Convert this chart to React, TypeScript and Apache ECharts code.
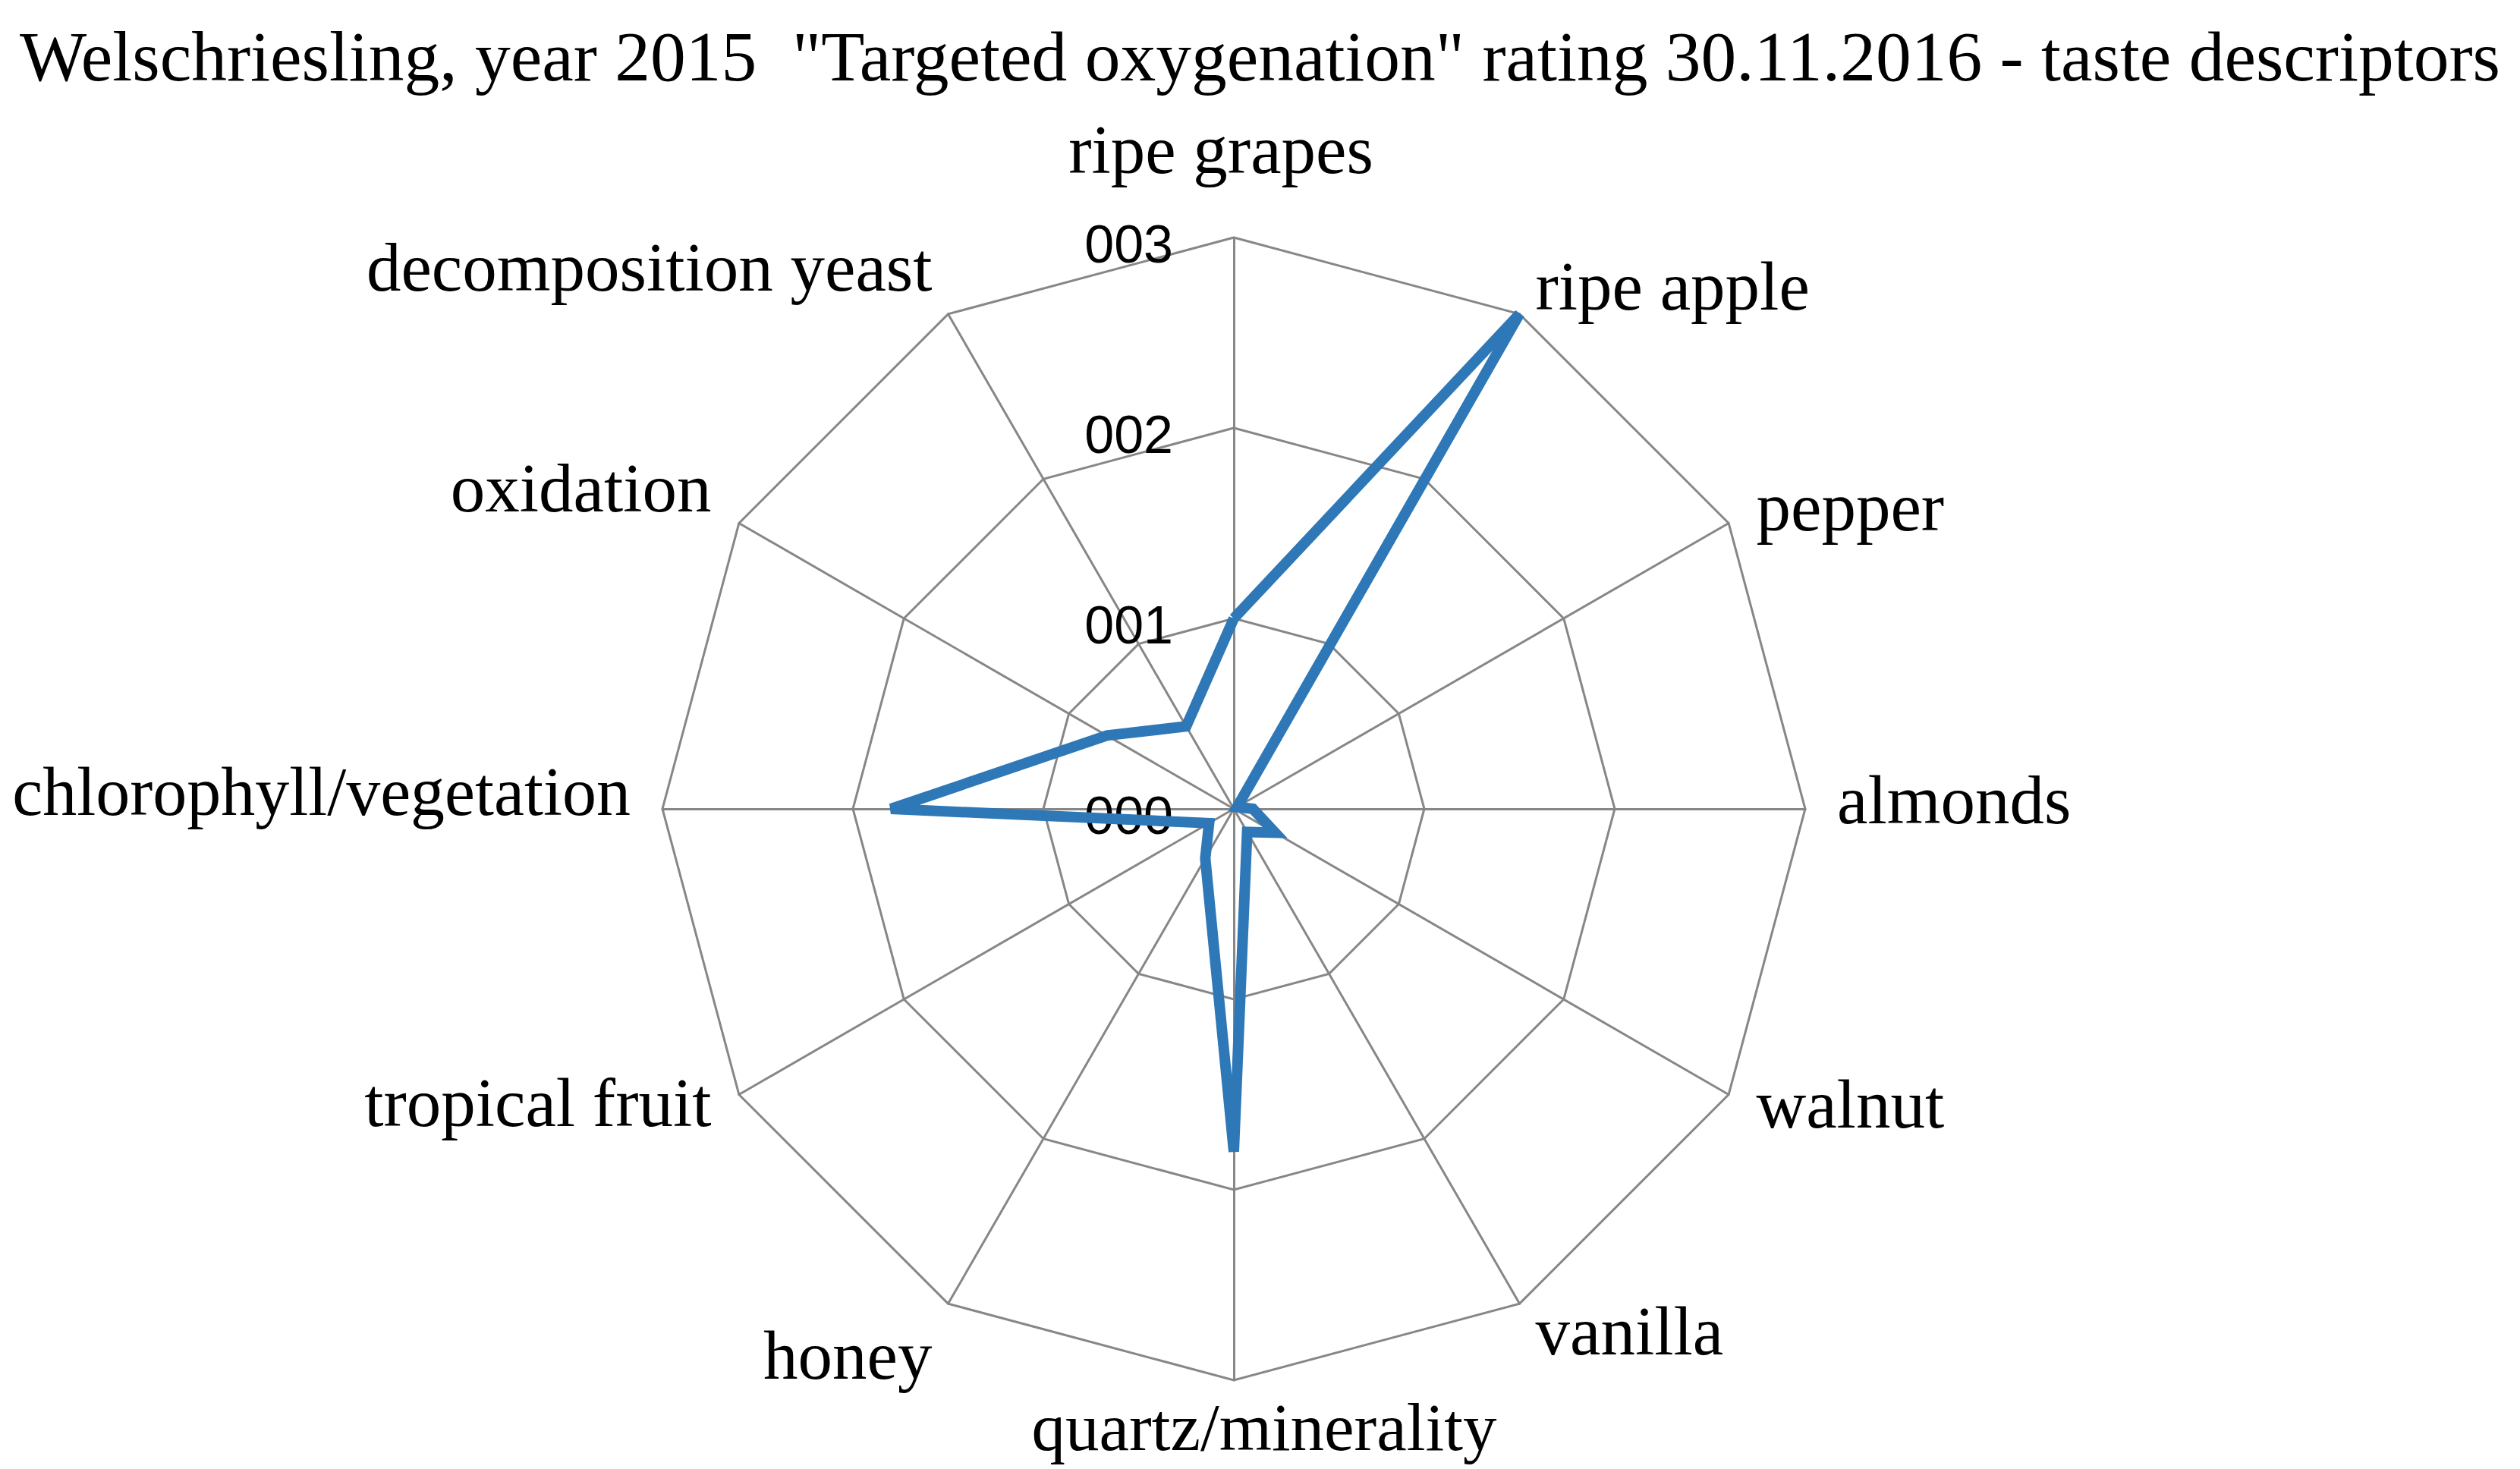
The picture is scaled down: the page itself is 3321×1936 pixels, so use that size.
import React, { useEffect, useRef } from 'react';
import * as echarts from 'echarts';

const titleText = 'Welschriesling, year 2015  "Targeted oxygenation" rating 30.11.2016 - taste descriptors';
// clockwise from top, as in the reference
const descriptors = [
  'ripe grapes',
  'ripe apple',
  'pepper',
  'almonds',
  'walnut',
  'vanilla',
  'quartz/minerality',
  'honey',
  'tropical fruit',
  'chlorophyll/vegetation',
  'oxidation',
  'decomposition yeast',
];
const ratings = [1.0, 3.0, 0.02, 0.1, 0.25, 0.14, 1.8, 0.3, 0.15, 1.8, 0.77, 0.5];
const tickLabels = ['000', '001', '002', '003'];
const axisMin = 0;
const axisMax = 3;

// label styling tweaks (style only, not data)
const nameStyles: Record<string, any> = {
  'ripe grapes': { padding: [0, 34, 28, 0] },
  'decomposition yeast': { verticalAlign: 'bottom', lineHeight: 50 },
  oxidation: { verticalAlign: 'bottom', lineHeight: 50 },
  'chlorophyll/vegetation': { verticalAlign: 'bottom', lineHeight: 46, fontSize: 90 },
  'tropical fruit': { verticalAlign: 'bottom', lineHeight: 20 },
  honey: { verticalAlign: 'top', lineHeight: 64 },
  'quartz/minerality': { padding: [0, 0, 0, 80], fontSize: 89, lineHeight: 40 },
  walnut: { verticalAlign: 'bottom', lineHeight: 16 },
  almonds: { verticalAlign: 'bottom', lineHeight: 24 },
};

export default function App() {
  const ref = useRef<HTMLDivElement>(null);

  useEffect(() => {
    document.body.style.margin = '0';
    if (!ref.current) return;
    const chart = echarts.init(ref.current, null, { renderer: 'svg' });

    const baseName = {
      color: '#000',
      fontFamily: 'Liberation Serif',
      fontSize: 91,
    };

    // ECharts lays radar indicators counter-clockwise; reorder to get clockwise.
    const n = descriptors.length;
    const order = descriptors.map((_, i) => (n - i) % n);

    const indicator = order.map((idx, k) => {
      const name = descriptors[idx];
      const ind: any = {
        name,
        min: axisMin,
        max: axisMax,
        nameTextStyle: { ...baseName, ...(nameStyles[name] || {}) },
      };
      if (k === 0) {
        ind.axisLabel = {
          show: true,
          formatter: (v: number) => tickLabels[Math.round(v)] ?? '',
          fontFamily: 'Liberation Sans',
          fontSize: 70,
          color: '#000',
          margin: 80,
          verticalAlign: 'top',
          lineHeight: 18,
        };
      }
      return ind;
    });

    chart.setOption({
      animation: false,
      backgroundColor: '#fff',
      title: {
        text: titleText,
        left: 'center',
        top: 22,
        textStyle: {
          fontFamily: 'Liberation Serif',
          fontSize: 93.5,
          fontWeight: 'normal',
          color: '#000',
        },
      },
      radar: {
        center: [1626, 1066],
        radius: 753,
        startAngle: 90,
        splitNumber: 3,
        shape: 'polygon',
        nameGap: 42,
        indicator,
        axisName: baseName,
        axisLine: { lineStyle: { color: '#878787', width: 3 } },
        splitLine: { lineStyle: { color: '#878787', width: 3 } },
        splitArea: { show: false },
        axisTick: { show: false },
        axisLabel: { show: false },
      },
      series: [
        {
          type: 'radar',
          symbol: 'none',
          lineStyle: { color: '#2E78B8', width: 14, join: 'miter' },
          itemStyle: { color: '#2E78B8' },
          data: [{ value: order.map((idx) => ratings[idx]) }],
        },
      ],
    });

    return () => chart.dispose();
  }, []);

  return <div ref={ref} style={{ width: 3321, height: 1936 }} />;
}
